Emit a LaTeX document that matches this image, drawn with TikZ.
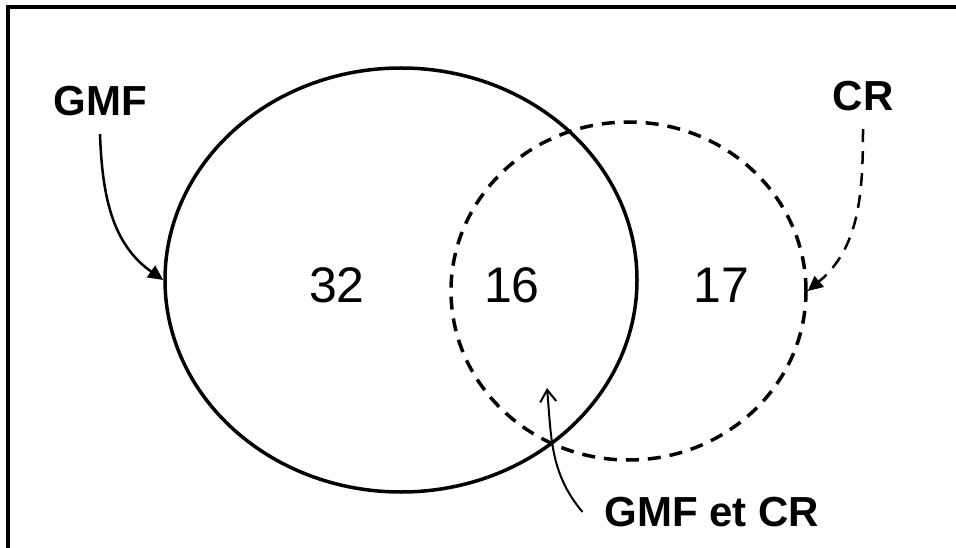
\documentclass[tikz,border=0pt]{standalone}
\usepackage{fontspec}
\setmainfont{Liberation Sans}
\usetikzlibrary{shapes.geometric,arrows.meta}
\tikzset{
  setbox/.style={draw, ellipse, inner sep=0pt, line width=3.5pt},
  lbl/.style={font=\fontsize{42}{48}\selectfont\bfseries, inner sep=0pt},
  num/.style={font=\fontsize{50}{56}\selectfont, inner sep=0pt},
  dsh/.style={dash pattern=on 13pt off 9pt},
}
\begin{document}
\begin{tikzpicture}[x=1pt,y=-1pt]
\useasboundingbox (0,0) rectangle (956,548);
% frame (only top and left visible)
\draw[line width=4pt] (8,548) -- (8,7) -- (956,7);
% sets
\node[setbox, minimum width=472pt, minimum height=424pt] (gmfset) at (401,280) {};
\node[setbox, dsh, minimum width=355pt, minimum height=338pt] (crset) at (628.5,291) {};
% labels
\node[lbl] (gmf) at (100,101) {GMF};
\node[lbl] (cr) at (863,96) {CR};
\node[lbl] (both) at (712,512) {GMF et CR};
% numbers
\node[num] (n32) at (337,285) {32};
\node[num] (n16) at (512,285) {16};
\node[num] (n17) at (721,285) {17};
% arrows
\draw[line width=2.5pt, -{Triangle[length=15pt,width=14pt]}]
  ([yshift=-18pt]gmf.south) to[out=-88, in=145] (gmfset.west);
\draw[line width=2.5pt, dsh, -{Triangle[length=15pt,width=14pt]}]
  ([yshift=-18pt]cr.south) to[out=-90, in=40] (crset.east);
\coordinate (bothtip) at (547,388);
\draw[line width=2pt, -{Straight Barb[length=12pt,width=16pt]}]
  ([xshift=-22pt]both.west) to[out=130, in=-85] (bothtip);
\end{tikzpicture}
\end{document}
